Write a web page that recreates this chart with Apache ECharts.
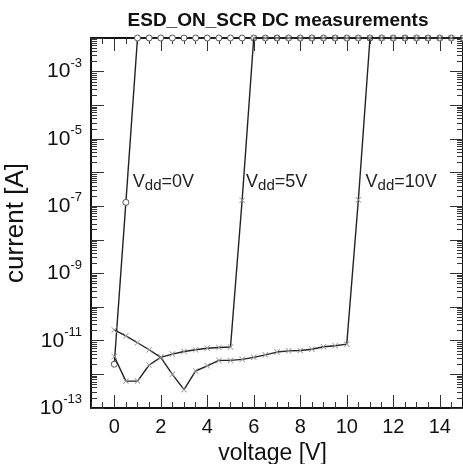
<!DOCTYPE html>
<html><head><meta charset="utf-8">
<script src="https://cdn.jsdelivr.net/npm/echarts@6/dist/echarts.min.js"></script>
<style>html,body{margin:0;padding:0;background:#fff}#c{width:463px;height:464px}</style>
</head><body><div id="c"></div>
<script>
// ---- text ----
const titleText = 'ESD_ON_SCR DC measurements';
const xName = 'voltage [V]';
const yName = 'current [A]';

// ---- ticks / labels ----
const xRange = [-1, 15];
const xTickLabels = [0, 2, 4, 6, 8, 10, 12, 14];
const xMinorStep = 0.5;
const yRangeExp = [-13, -2];
const yLabelExponents = [-13, -11, -9, -7, -5, -3];
const yMajorExponents = [-13, -12, -11, -10, -9, -8, -7, -6, -5, -4, -3, -2];
const yMinorMantissas = [2, 3, 4, 5, 6, 7, 8, 9];

// ---- data ----
const voltages = [0, 0.5, 1, 1.5, 2, 2.5, 3, 3.5, 4, 4.5, 5, 5.5, 6, 6.5, 7, 7.5, 8, 8.5, 9, 9.5, 10, 10.5, 11, 11.5, 12, 12.5, 13, 13.5, 14, 14.5, 15];
const vdd0Current = [2.0e-12, 1.3e-7,
  1e-2, 1e-2, 1e-2, 1e-2, 1e-2, 1e-2, 1e-2, 1e-2, 1e-2, 1e-2, 1e-2, 1e-2, 1e-2, 1e-2, 1e-2,
  1e-2, 1e-2, 1e-2, 1e-2, 1e-2, 1e-2, 1e-2, 1e-2, 1e-2, 1e-2, 1e-2, 1e-2, 1e-2, 1e-2];
const vdd5Current = [3.4e-12, 6.3e-13, 6.3e-13, 1.9e-12, 3.2e-12, 4.0e-12, 4.8e-12, 5.4e-12, 6.0e-12, 6.3e-12, 6.5e-12, 1.5e-7,
  1e-2, 1e-2, 1e-2, 1e-2, 1e-2, 1e-2, 1e-2, 1e-2, 1e-2, 1e-2, 1e-2, 1e-2, 1e-2, 1e-2, 1e-2, 1e-2, 1e-2, 1e-2, 1e-2];
const vdd10Current = [2.1e-11, 1.4e-11, 8.7e-12, 5.4e-12, 3.2e-12, 1.0e-12, 3.5e-13, 1.26e-12, 1.8e-12, 2.6e-12, 2.6e-12,
  2.8e-12, 3.2e-12, 3.8e-12, 4.6e-12, 5.0e-12, 5.1e-12, 5.6e-12, 6.6e-12, 7.1e-12, 7.9e-12, 1.55e-7,
  1e-2, 1e-2, 1e-2, 1e-2, 1e-2, 1e-2, 1e-2, 1e-2, 1e-2];

// ---- annotations ----
const annotationNames = ['0V', '5V', '10V'];
const annotationX = [0.8, 5.67, 10.81];
const annotationY = [5.4e-7, 5.4e-7, 5.4e-7];

// ---- build ----
const xMinorTicks = [];
for (let v = xRange[0]; v <= xRange[1] + 1e-9; v += xMinorStep) {
  if (xTickLabels.indexOf(v) < 0) xMinorTicks.push(v);
}
const yMinorTicks = [];
for (let d = yRangeExp[0]; d < yRangeExp[1]; d++) {
  yMinorMantissas.forEach(m => yMinorTicks.push(d + Math.log10(m)));
}
const pairs = (xs, ys) => xs.map((x, i) => [x, ys[i]]);

const AX = '#111';
const FONT = '"Liberation Sans", Arial, sans-serif';
const crossPath = 'path://M0,1L1,0L5,4L9,0L10,1L6,5L10,9L9,10L5,6L1,10L0,9L4,5Z';

function annot(i) {
  return {
    symbol: 'none',
    silent: true,
    data: [{
      coord: [annotationX[i], annotationY[i]],
      symbol: 'circle', symbolSize: 0,
      label: {
        show: true, position: 'right', distance: 0,
        formatter: '{v|V}{s|dd}{e|=' + annotationNames[i] + '}',
        rich: {
          v: {fontSize: 18, fontFamily: FONT, color: '#222', lineHeight: 24},
          s: {fontSize: 15, fontFamily: FONT, color: '#222', verticalAlign: 'bottom', lineHeight: 17},
          e: {fontSize: 18, fontFamily: FONT, color: '#222', lineHeight: 24}
        }
      }
    }]
  };
}

const hiddenLabel = {show: false};
function xAx(pos, ticks, len, showLine, labels) {
  return {
    type: 'value', position: pos, min: xRange[0], max: xRange[1], gridIndex: 0,
    axisLine: {show: showLine, onZero: false, lineStyle: {color: AX, width: 2}},
    axisTick: {show: true, inside: true, length: len, customValues: ticks, lineStyle: {color: '#333', width: 1}},
    axisLabel: labels ? {show: true, customValues: xTickLabels, margin: 9, color: '#111', fontSize: 20, fontFamily: FONT} : hiddenLabel,
    splitLine: {show: false}
  };
}
function yAx(pos, ticks, len, showLine, labels) {
  return {
    type: 'value', position: pos, min: yRangeExp[0], max: yRangeExp[1], gridIndex: 0,
    axisLine: {show: showLine, onZero: false, lineStyle: {color: AX, width: 2}},
    axisTick: {show: true, inside: true, length: len, customValues: ticks, lineStyle: {color: '#333', width: 1}},
    axisLabel: labels ? {
      show: true, customValues: yLabelExponents, margin: 9,
      formatter: v => '{b|10}{s|' + v + '}',
      rich: {
        b: {fontSize: 21, fontFamily: FONT, color: '#111', lineHeight: 30},
        s: {fontSize: 13, fontFamily: FONT, color: '#111', verticalAlign: 'top', lineHeight: 14}
      }
    } : hiddenLabel,
    splitLine: {show: false}
  };
}

const xAxes = [
  xAx('bottom', xTickLabels, 13, true, true),
  xAx('bottom', xMinorTicks, 6, false, false),
  xAx('top', xTickLabels, 13, true, false),
  xAx('top', xMinorTicks, 6, false, false)
];
xAxes[0].name = xName;
xAxes[0].nameLocation = 'middle';
xAxes[0].nameGap = 31;
xAxes[0].nameTextStyle = {fontSize: 23, fontFamily: FONT, color: '#111', padding: [0, 9, 0, 0]};

const yAxes = [
  {type: 'log', logBase: 10, min: Math.pow(10, yRangeExp[0]), max: Math.pow(10, yRangeExp[1]), show: false, gridIndex: 0},
  yAx('left', yMajorExponents, 13, true, true),
  yAx('left', yMinorTicks, 6, false, false),
  yAx('right', yMajorExponents, 13, true, false),
  yAx('right', yMinorTicks, 6, false, false)
];
yAxes[1].name = yName;
yAxes[1].nameLocation = 'middle';
yAxes[1].nameGap = 61;
yAxes[1].nameTextStyle = {fontSize: 26, fontFamily: FONT, color: '#111'};

const lineStyle = {color: '#222', width: 1.4};

const option = {
  animation: false,
  backgroundColor: '#fff',
  title: {
    text: titleText, left: 273, top: 6, textAlign: 'center',
    textStyle: {fontSize: 19, fontWeight: 'bold', fontFamily: FONT, color: '#111'}
  },
  grid: {left: 91, top: 38, width: 372, height: 370, containLabel: false, outerBoundsMode: 'none'},
  xAxis: xAxes,
  yAxis: yAxes,
  series: [
    {
      name: 'Vdd=0V', type: 'line', xAxisIndex: 0, yAxisIndex: 0,
      data: pairs(voltages, vdd0Current), clip: false,
      symbol: 'circle', symbolSize: 6, showSymbol: true,
      itemStyle: {color: '#fff', borderColor: '#555', borderWidth: 1},
      lineStyle: lineStyle, z: 3,
      markPoint: annot(0)
    },
    {
      name: 'Vdd=5V', type: 'line', xAxisIndex: 0, yAxisIndex: 0,
      data: pairs(voltages, vdd5Current), clip: false,
      symbol: crossPath, symbolSize: 6, showSymbol: true,
      itemStyle: {color: '#999'},
      lineStyle: lineStyle, z: 4,
      markPoint: annot(1)
    },
    {
      name: 'Vdd=10V', type: 'line', xAxisIndex: 0, yAxisIndex: 0,
      data: pairs(voltages, vdd10Current), clip: false,
      symbol: crossPath, symbolSize: 6, showSymbol: true,
      itemStyle: {color: '#999'},
      lineStyle: lineStyle, z: 5,
      markPoint: annot(2)
    }
  ]
};

const chart = echarts.init(document.getElementById('c'), null, {renderer: 'canvas'});
chart.setOption(option);
</script>
</body></html>
